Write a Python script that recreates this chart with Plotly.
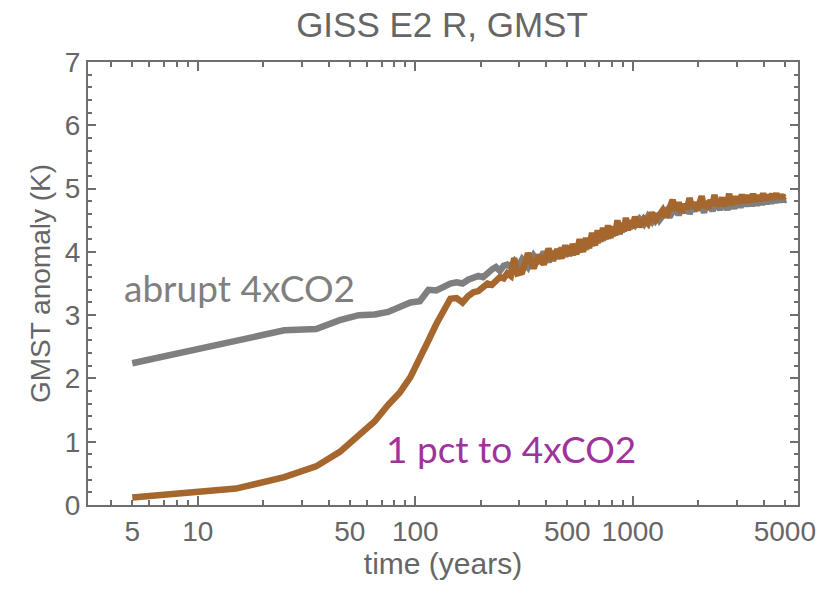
import math
import plotly.graph_objects as go

# Decadal-mean sampling grid (years since the start of each run)
t_early = list(range(5, 300, 10))      # 5 ... 295
t_mid = list(range(310, 1000, 20))     # 310 ... 990
t_late = list(range(1025, 5000, 50))   # 1025 ... 4975
time_years = t_early + t_mid + t_late

# GMST anomaly (K), abrupt 4xCO2 run
abrupt_early = [2.24, 2.59, 2.76, 2.78, 2.92, 3.00, 3.01, 3.05, 3.12, 3.20,
                3.22, 3.40, 3.39, 3.45, 3.50, 3.52, 3.50, 3.56, 3.60, 3.62,
                3.60, 3.68, 3.72, 3.76, 3.70, 3.78, 3.80, 3.76, 3.84, 3.74]
abrupt_mid = [3.88, 3.76, 3.94, 3.82, 4.00, 3.84, 4.00, 3.90, 4.06, 3.93,
              4.08, 3.95, 4.12, 4.00, 4.15, 4.04, 4.20, 4.10, 4.26, 4.14,
              4.30, 4.18, 4.33, 4.21, 4.37, 4.25, 4.40, 4.28, 4.42, 4.31,
              4.45, 4.34, 4.47, 4.36, 4.48]
abrupt_late = [4.42, 4.52, 4.44, 4.56, 4.48, 4.60, 4.50, 4.57, 4.64, 4.55,
               4.66, 4.72, 4.58, 4.70, 4.62, 4.74, 4.60, 4.72, 4.64, 4.76,
               4.66, 4.72, 4.62, 4.75, 4.67, 4.74, 4.64, 4.78, 4.68, 4.73,
               4.66, 4.78, 4.70, 4.76, 4.66, 4.80, 4.70, 4.76, 4.68, 4.79,
               4.71, 4.80, 4.70, 4.78, 4.73, 4.82, 4.72, 4.79, 4.74, 4.83,
               4.72, 4.80, 4.75, 4.84, 4.73, 4.81, 4.76, 4.84, 4.74, 4.82,
               4.77, 4.85, 4.75, 4.83, 4.77, 4.86, 4.76, 4.83, 4.78, 4.86,
               4.77, 4.84, 4.79, 4.86, 4.78, 4.84, 4.80, 4.85, 4.79, 4.82]

# GMST anomaly (K), 1 pct to 4xCO2 run
pct_early = [0.12, 0.26, 0.44, 0.61, 0.84, 1.10, 1.32, 1.58, 1.78, 2.02,
             2.30, 2.60, 2.86, 3.06, 3.26, 3.27, 3.20, 3.30, 3.36, 3.38,
             3.45, 3.50, 3.48, 3.56, 3.60, 3.58, 3.66, 3.62, 3.90, 3.66]
pct_mid = [3.68, 3.98, 3.74, 3.95, 3.80, 4.05, 3.86, 4.04, 3.90, 4.10,
           3.94, 4.12, 3.96, 4.20, 4.00, 4.22, 4.06, 4.30, 4.10, 4.34,
           4.16, 4.38, 4.20, 4.42, 4.22, 4.40, 4.26, 4.50, 4.28, 4.46,
           4.32, 4.54, 4.34, 4.50, 4.38]
pct_late = [4.55, 4.40, 4.52, 4.45, 4.62, 4.50, 4.58, 4.66, 4.55, 4.70,
            4.82, 4.65, 4.78, 4.62, 4.75, 4.68, 4.85, 4.70, 4.78, 4.66,
            4.76, 4.88, 4.70, 4.80, 4.68, 4.82, 4.74, 4.90, 4.72, 4.80,
            4.75, 4.86, 4.72, 4.84, 4.78, 4.92, 4.74, 4.83, 4.77, 4.88,
            4.76, 4.85, 4.79, 4.91, 4.77, 4.86, 4.80, 4.90, 4.78, 4.87,
            4.81, 4.92, 4.79, 4.88, 4.82, 4.90, 4.80, 4.89, 4.83, 4.93,
            4.81, 4.89, 4.84, 4.91, 4.82, 4.90, 4.85, 4.92, 4.83, 4.89,
            4.85, 4.93, 4.84, 4.90, 4.86, 4.91, 4.84, 4.90, 4.86, 4.88]

abrupt = abrupt_early + abrupt_mid + abrupt_late
pct = pct_early + pct_mid + pct_late

x_labels = {5: "5", 10: "10", 50: "50", 100: "100", 500: "500", 1000: "1000", 5000: "5000"}
x_tick_positions = [m * 10 ** k for k in range(0, 4) for m in range(1, 10)
                    if 3.5 < m * 10 ** k < 5500]
decades = [10, 100, 1000]

GRAY = "#7f7f7f"
BROWN = "#a5672d"
PURPLE = "#a0329b"
AXIS = "#6e6e6e"
TEXT = "#666666"
FONT = "Arial, Liberation Sans, sans-serif"
x_range = [math.log10(3.13), math.log10(5750)]

fig = go.Figure()
fig.add_trace(go.Scatter(x=time_years, y=abrupt, mode="lines",
                         line=dict(color=GRAY, width=6.5), showlegend=False))
fig.add_trace(go.Scatter(x=time_years, y=pct, mode="lines",
                         line=dict(color=BROWN, width=6.5), showlegend=False))

fig.update_layout(
    width=828, height=596,
    margin=dict(l=88, r=21, t=62, b=91),
    paper_bgcolor="white", plot_bgcolor="white",
    font=dict(family=FONT, color=TEXT),
    title=dict(text="GISS E2 R, GMST", x=442 / 828, xref="container", xanchor="center",
               y=1 - 25 / 596, yref="container", yanchor="middle",
               font=dict(family=FONT, size=35, color=TEXT)),
    xaxis=dict(type="log", range=x_range, showgrid=False, zeroline=False,
               showline=True, linecolor=AXIS, linewidth=2, mirror="ticks",
               ticks="inside", ticklen=5, tickwidth=1.5, tickcolor=AXIS,
               tickmode="array", tickvals=x_tick_positions,
               ticktext=[x_labels.get(v, "") for v in x_tick_positions],
               tickfont=dict(family=FONT, size=28, color=TEXT),
               title=dict(text="time (years)", font=dict(family=FONT, size=30, color=TEXT),
                          standoff=0)),
    xaxis2=dict(type="log", range=x_range, overlaying="x", side="bottom",
                showgrid=False, zeroline=False, showline=True, linecolor=AXIS,
                linewidth=2, mirror="ticks", ticks="inside", ticklen=9,
                tickwidth=1.5, tickcolor=AXIS, tickmode="array", tickvals=decades,
                showticklabels=False),
    yaxis=dict(range=[0, 7], showgrid=False, zeroline=False,
               showline=True, linecolor=AXIS, linewidth=2, mirror="ticks",
               ticks="inside", ticklen=8, tickwidth=1.5, tickcolor=AXIS,
               tickmode="linear", tick0=0, dtick=1,
               minor=dict(ticks="inside", ticklen=4, tickwidth=1.5, tickcolor=AXIS,
                          dtick=0.2, tick0=0, showgrid=False),
               tickfont=dict(family=FONT, size=28, color=TEXT),
               title=dict(text="GMST anomaly (K)", font=dict(family=FONT, size=28, color=TEXT),
                          standoff=6)),
)

# Invisible point so the decade-tick axis is drawn
fig.add_trace(go.Scatter(x=[time_years[0]], y=[abrupt[0]], xaxis="x2", mode="markers",
                         marker=dict(opacity=0), showlegend=False, hoverinfo="skip"))

fig.add_annotation(x=math.log10(4.47), y=3.44, xref="x", yref="y",
                   text="abrupt 4xCO2", showarrow=False, xanchor="left", yanchor="middle",
                   font=dict(family="Lato, sans-serif", size=37, color=GRAY))
fig.add_annotation(x=math.log10(71.6), y=0.9, xref="x", yref="y",
                   text="1 pct to 4xCO2", showarrow=False, xanchor="left", yanchor="middle",
                   font=dict(family="Lato, sans-serif", size=37, color=PURPLE))

fig.write_html("out.html")
